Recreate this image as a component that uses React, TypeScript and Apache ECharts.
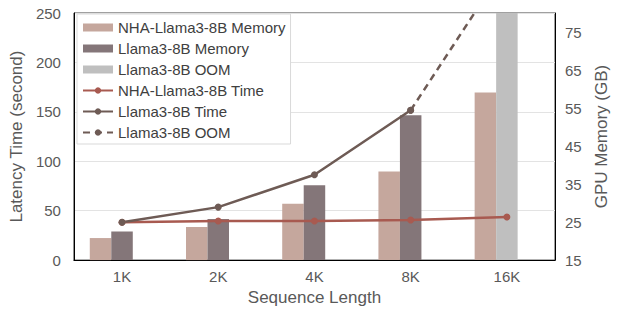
import React, { useEffect, useRef } from "react";
import * as echarts from "echarts";

const categories = ["1K", "2K", "4K", "8K", "16K"];
const nhaMemory = [20.8, 23.7, 29.8, 38.3, 59.1];
const llamaMemory = [22.5, 25.8, 34.7, 53.1, "-"];
const llamaOomMemory = ["-", "-", "-", "-", 80];
const nhaTime = [38.3, 39.6, 39.6, 40.6, 43.6];
const llamaTime = [38.3, 53.6, 86.3, 151.6, "-"];
const llamaOomTime = ["-", "-", "-", 151.6, 300];
const rightTicks = [15, 25, 35, 45, 55, 65, 75];

const FONT = "Liberation Sans, Arial, sans-serif";
const LABEL = "#595959";
const TICK_SIZE = 15;
const NAME_SIZE = 17;

export default function App() {
  const ref = useRef<HTMLDivElement>(null);
  useEffect(() => {
    if (!ref.current) return;
    const chart = echarts.init(ref.current, null, { renderer: "svg" });
    chart.setOption({
      animation: false,
      textStyle: { fontFamily: FONT },
      grid: {
        left: 71,
        right: 63,
        top: 13,
        bottom: 47,
        show: true,
        borderColor: "#404040",
        borderWidth: 1,
      },
      legend: {
        orient: "vertical",
        left: 77,
        top: 14,
        backgroundColor: "#ffffff",
        borderColor: "#d9d9d9",
        borderWidth: 1,
        padding: [5, 5, 3, 5],
        itemGap: 4,
        itemWidth: 30,
        itemHeight: 8,
        textStyle: { fontSize: 15, color: "#404040", fontFamily: FONT, lineHeight: 17 },
        data: [
          { name: "NHA-Llama3-8B Memory", icon: "rect" },
          { name: "Llama3-8B Memory", icon: "rect" },
          { name: "Llama3-8B OOM ", icon: "rect" },
          { name: "NHA-Llama3-8B Time" },
          { name: "Llama3-8B Time" },
          { name: "Llama3-8B OOM" },
        ],
      },
      xAxis: {
        type: "category",
        data: categories,
        name: "Sequence Length",
        nameLocation: "middle",
        nameGap: 28,
        nameTextStyle: { fontSize: NAME_SIZE, color: LABEL, fontFamily: FONT },
        axisLine: { lineStyle: { color: "#000000", width: 1 } },
        axisTick: { alignWithLabel: true, length: 4, lineStyle: { color: "#000000" } },
        axisLabel: { fontSize: TICK_SIZE, color: LABEL, margin: 9, fontFamily: FONT },
      },
      yAxis: [
        {
          type: "value",
          min: 0,
          max: 250,
          interval: 50,
          name: "Latency Time (second)",
          nameLocation: "middle",
          nameGap: 40,
          nameTextStyle: { fontSize: NAME_SIZE, color: LABEL, fontFamily: FONT },
          axisLine: { show: true, lineStyle: { color: "#000000" } },
          axisTick: { show: false },
          axisLabel: { fontSize: TICK_SIZE, color: LABEL, margin: 13, fontFamily: FONT },
          splitLine: { show: true, lineStyle: { color: "#e3e3e3", width: 1 } },
        },
        {
          type: "value",
          min: 15,
          max: 80,
          name: "GPU Memory (GB)",
          nameLocation: "middle",
          nameGap: 36,
          nameTextStyle: { fontSize: NAME_SIZE, color: LABEL, fontFamily: FONT },
          axisLine: { show: true, lineStyle: { color: "#000000" } },
          axisTick: { show: false },
          axisLabel: { fontSize: TICK_SIZE, color: LABEL, margin: 10, fontFamily: FONT, customValues: rightTicks },
          splitLine: { show: false },
        },
      ],
      series: [
        {
          name: "NHA-Llama3-8B Memory",
          type: "bar",
          yAxisIndex: 1,
          data: nhaMemory,
          barWidth: 21.5,
          barGap: "0%",
          itemStyle: { color: "#c5a79d" },
        },
        {
          name: "Llama3-8B Memory",
          type: "bar",
          yAxisIndex: 1,
          stack: "mem",
          data: llamaMemory,
          barWidth: 21.5,
          barGap: "0%",
          itemStyle: { color: "#847679" },
        },
        {
          name: "Llama3-8B OOM ",
          type: "bar",
          yAxisIndex: 1,
          stack: "mem",
          data: llamaOomMemory,
          barWidth: 21.5,
          barGap: "0%",
          itemStyle: { color: "#bfbfbf" },
        },
        {
          name: "spacer",
          type: "bar",
          yAxisIndex: 1,
          data: ["-", "-", "-", "-", "-"],
          barWidth: 21.5,
          barGap: "0%",
          silent: true,
        },
        {
          name: "NHA-Llama3-8B Time",
          type: "line",
          yAxisIndex: 0,
          data: nhaTime,
          symbol: "circle",
          symbolSize: 7,
          z: 5,
          lineStyle: { color: "#a85a50", width: 2.5 },
          itemStyle: { color: "#a85a50" },
        },
        {
          name: "Llama3-8B Time",
          type: "line",
          yAxisIndex: 0,
          data: llamaTime,
          symbol: "circle",
          symbolSize: 7,
          z: 5,
          lineStyle: { color: "#6e5b55", width: 2.5 },
          itemStyle: { color: "#6e5b55" },
        },
        {
          name: "Llama3-8B OOM",
          type: "line",
          yAxisIndex: 0,
          data: llamaOomTime,
          symbol: "circle",
          symbolSize: 7,
          z: 5,
          clip: true,
          lineStyle: { color: "#6e5b55", width: 2.5, type: [7, 5] },
          itemStyle: { color: "#6e5b55" },
        },
      ],
    });
    return () => chart.dispose();
  }, []);
  return <div ref={ref} style={{ width: 618, height: 311, position: "absolute", left: 0, top: 0 }} />;
}
